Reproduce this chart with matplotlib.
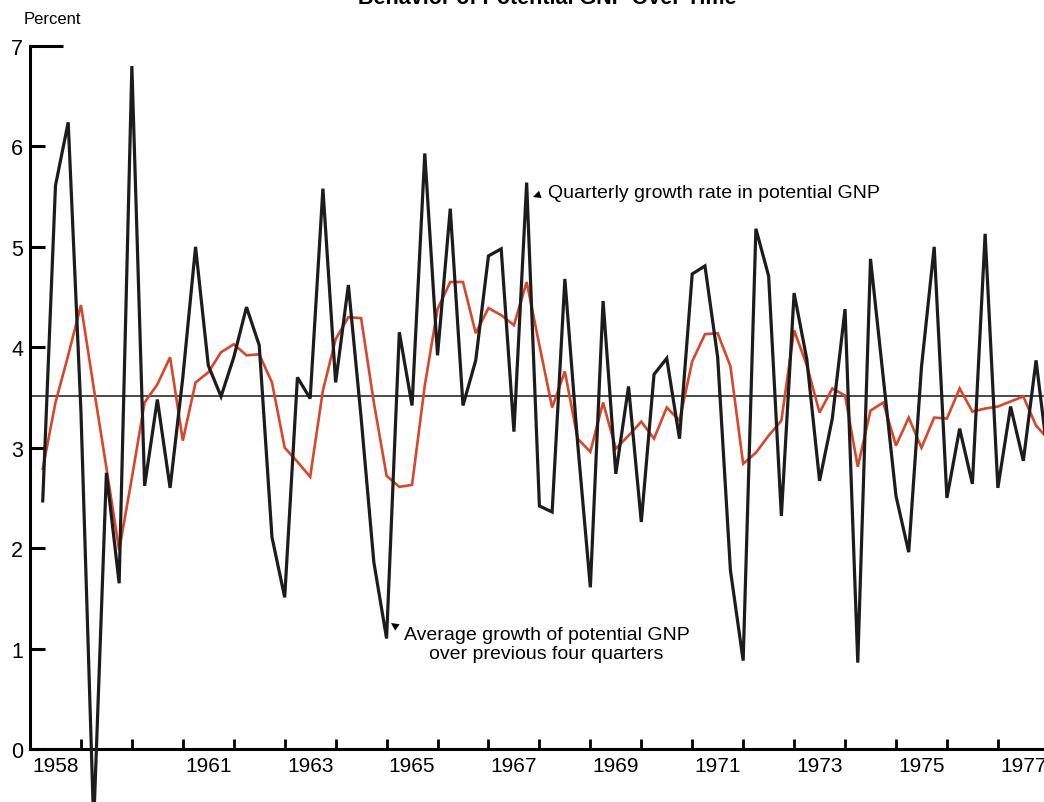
import matplotlib
matplotlib.use("Agg")
import matplotlib.pyplot as plt
import numpy as np

# ======= DATA (quarterly 1958Q1 - 1977Q4) =======
start_year = 1958
quarterly_growth = [2.47, 5.61, 6.24, 3.36, -0.75, 2.75, 1.65, 6.80, 2.62, 3.48,
                    2.60, 3.70, 5.00, 3.82, 3.51, 3.90, 4.40, 4.02, 2.11, 1.51,
                    3.70, 3.49, 5.58, 3.65, 4.62, 3.30, 1.86, 1.10, 4.15, 3.42,
                    5.93, 3.92, 5.38, 3.42, 3.87, 4.91, 4.98, 3.16, 5.64, 2.42,
                    2.36, 4.68, 3.05, 1.61, 4.46, 2.74, 3.61, 2.26, 3.73, 3.89,
                    3.09, 4.73, 4.81, 3.90, 1.78, 0.88, 5.18, 4.71, 2.32, 4.54,
                    3.88, 2.67, 3.29, 4.38, 0.86, 4.88, 3.70, 2.52, 1.96, 3.80,
                    5.00, 2.50, 3.19, 2.64, 5.13, 2.60, 3.41, 2.87, 3.87, 2.83]
four_quarter_avg = [2.79, 3.45, 3.92, 4.42, 3.60, 2.80, 1.98, 2.70, 3.45, 3.63,
                    3.90, 3.07, 3.65, 3.75, 3.95, 4.03, 3.92, 3.93, 3.65, 3.00,
                    2.86, 2.71, 3.57, 4.08, 4.30, 4.29, 3.45, 2.72, 2.61, 2.63,
                    3.62, 4.38, 4.65, 4.65, 4.14, 4.39, 4.32, 4.22, 4.65, 4.02,
                    3.40, 3.76, 3.09, 2.96, 3.45, 2.99, 3.12, 3.26, 3.09, 3.40,
                    3.27, 3.86, 4.13, 4.14, 3.81, 2.84, 2.95, 3.12, 3.27, 4.17,
                    3.82, 3.35, 3.59, 3.52, 2.81, 3.37, 3.45, 3.02, 3.30, 3.00,
                    3.30, 3.29, 3.59, 3.36, 3.39, 3.41, 3.46, 3.51, 3.22, 3.08]
trend_level = 3.51
year_labels = [1958, 1961, 1963, 1965, 1967, 1969, 1971, 1973, 1975, 1977]
y_labels = [0, 1, 2, 3, 4, 5, 6]

plt.rcParams['font.family'] = ['Liberation Sans', 'DejaVu Sans']

x = start_year + (np.arange(len(quarterly_growth)) + 1) / 4.0

fig = plt.figure(figsize=(10.44, 8.03), dpi=100)
ax = fig.add_axes([30 / 1044, 0, 1014 / 1044, 1])
ax.set_xlim(1958, 1958 + 1014 / 50.94)
ax.set_ylim(-53 / 100.43, 750 / 100.43)

red = "#d8472b"
ax.axhline(trend_level, color="#4a4a4a", lw=1.4, zorder=1)
ax.plot(x, four_quarter_avg, color=red, lw=1.9, zorder=2, solid_joinstyle="miter")
ax.plot(x, quarterly_growth, color="#1c1c1c", lw=2.3, zorder=3, solid_joinstyle="miter")

# axes styling
for s in ["top", "right"]:
    ax.spines[s].set_visible(False)
ax.spines["left"].set_bounds(0, 7)
ax.spines["left"].set_linewidth(2.2)
ax.spines["bottom"].set_position(("data", 0))
ax.spines["bottom"].set_linewidth(2.2)

ax.set_yticks(y_labels, [str(v) for v in y_labels])
ax.set_yticks([7], ["7"], minor=True)
ax.tick_params(axis="y", which="major", direction="in", length=11, width=2.2,
               labelsize=15.5, pad=5)
ax.tick_params(axis="y", which="minor", direction="in", length=24, width=2.2,
               labelsize=15.5, pad=5)

ax.set_xticks(np.arange(1959, 1978), [""] * 19)
ax.set_xticks([y + 0.5 for y in year_labels], [str(y) for y in year_labels], minor=True)
ax.tick_params(axis="x", which="major", direction="in", length=7.5, width=2)
ax.tick_params(axis="x", which="minor", length=0, labelsize=15, pad=5)

# annotations
ax.text(1958 + (548 - 30) / 50.94, (750 - 193) / 100.43,
        "Quarterly growth rate in potential GNP", fontsize=14, va="center", ha="left")
ax.annotate("", xy=(1958 + (533 - 30) / 50.94, (750 - 198) / 100.43),
            xytext=(1958 + (547 - 30) / 50.94, (750 - 193) / 100.43),
            arrowprops=dict(arrowstyle="-|>", lw=0, color="black", mutation_scale=14,
                            shrinkA=0, shrinkB=0))
ax.text(1958 + (546.5 - 30) / 50.94, (750 - 645) / 100.43,
        "Average growth of potential GNP\nover previous four quarters",
        fontsize=14, va="center", ha="center", multialignment="center", linespacing=1.15)
ax.annotate("", xy=(1958 + (391 - 30) / 50.94, (750 - 624) / 100.43),
            xytext=(1958 + (404 - 30) / 50.94, (750 - 633) / 100.43),
            arrowprops=dict(arrowstyle="-|>", lw=0, color="black", mutation_scale=14,
                            shrinkA=0, shrinkB=0))

fig.text(52.5 / 1044, 1 - 19 / 803, "Percent", fontsize=12, ha="center", va="center")
fig.text(547 / 1044, 1 - 4 / 803, "Behavior of Potential GNP Over Time",
         fontsize=15.5, fontweight="bold", ha="center", va="baseline")

fig.savefig("out.png", dpi=100, facecolor="white")
